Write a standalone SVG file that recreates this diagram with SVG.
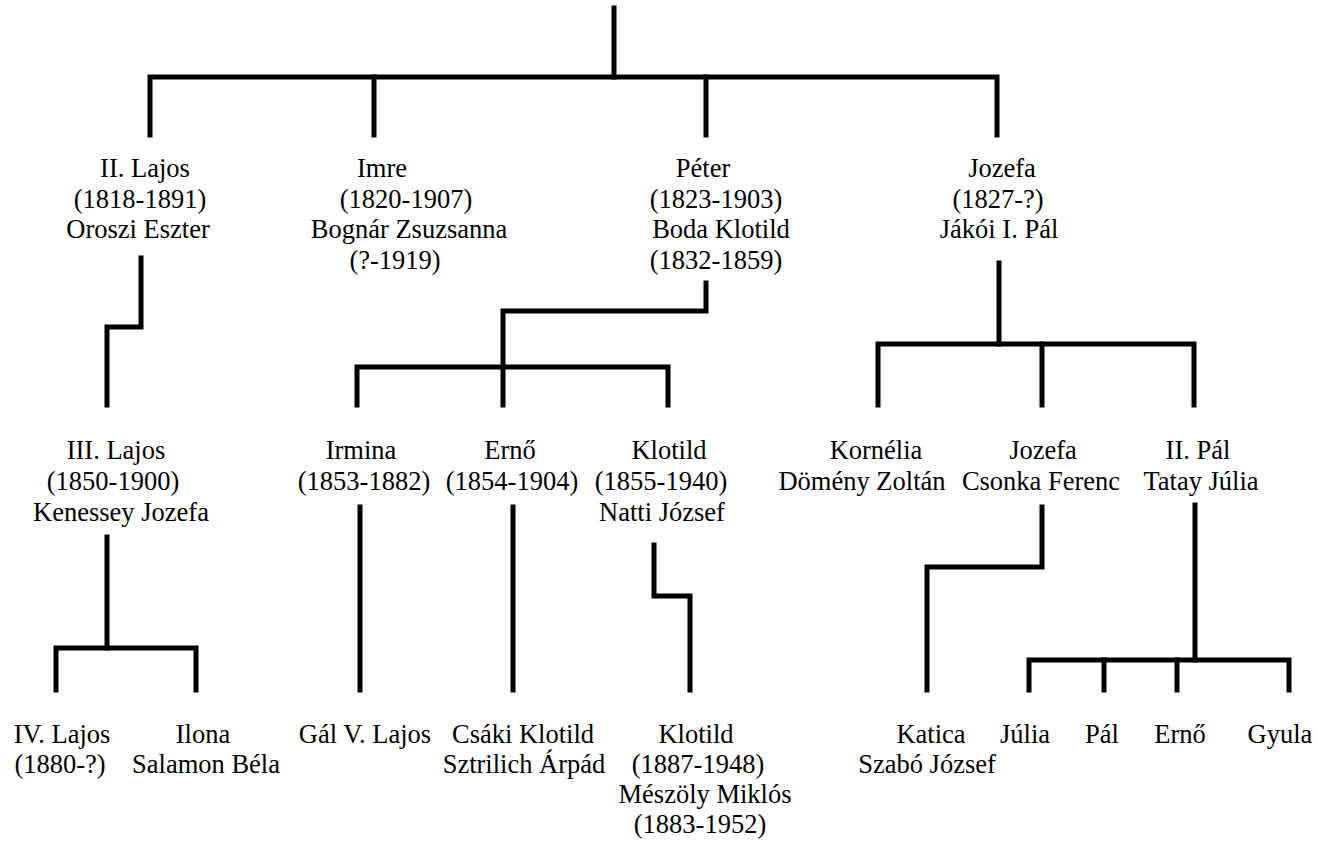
<svg xmlns="http://www.w3.org/2000/svg" width="1317" height="842" viewBox="0 0 1317 842">
<style>
text{font-family:"Liberation Serif","Times New Roman",serif;font-size:26.5px;fill:#000;text-anchor:middle}
.c path{fill:none;stroke:#000;stroke-width:5;stroke-linecap:square;stroke-linejoin:miter}
</style>
<rect width="1317" height="842" fill="#fff"/>
<g class="c" id="connectors">
<path d="M614,8V77"/>
<path d="M150,135V77H997V135"/>
<path d="M374,77V135"/>
<path d="M706,77V135"/>
<path d="M141,258V327H107V405"/>
<path d="M706,283V311H503V405"/>
<path d="M357,405V367H668V405"/>
<path d="M999,263V344"/>
<path d="M878,405V344H1194V405"/>
<path d="M1042,344V405"/>
<path d="M107,537V648"/>
<path d="M56,690V648H196V690"/>
<path d="M360,507V690"/>
<path d="M513,507V690"/>
<path d="M654,545V596H690V690"/>
<path d="M1042,507V567H927V690"/>
<path d="M1195,505V660"/>
<path d="M1029,690V660H1289V690"/>
<path d="M1104,660V690"/>
<path d="M1177,660V690"/>
</g>
<g id="n-lajos2"><text x="145" y="177">II. Lajos</text><text x="140" y="207.5">(1818-1891)</text><text x="138" y="238">Oroszi Eszter</text></g>
<g id="n-imre"><text x="382" y="177">Imre</text><text x="406" y="207.5">(1820-1907)</text><text x="409" y="238">Bognár Zsuzsanna</text><text x="395" y="268.5">(?-1919)</text></g>
<g id="n-peter"><text x="703" y="177">Péter</text><text x="716" y="207.5">(1823-1903)</text><text x="721" y="238">Boda Klotild</text><text x="716" y="268.5">(1832-1859)</text></g>
<g id="n-jozefa1"><text x="1002" y="177">Jozefa</text><text x="998" y="207.5">(1827-?)</text><text x="999" y="238">Jákói I. Pál</text></g>
<g id="n-lajos3"><text x="116" y="459">III. Lajos</text><text x="113" y="490">(1850-1900)</text><text x="121" y="520.5">Kenessey Jozefa</text></g>
<g id="n-irmina"><text x="361" y="459">Irmina</text><text x="364" y="490">(1853-1882)</text></g>
<g id="n-erno1"><text x="510" y="459">Ernő</text><text x="512" y="490">(1854-1904)</text></g>
<g id="n-klotild1"><text x="669" y="459">Klotild</text><text x="661" y="490">(1855-1940)</text><text x="662" y="520.5">Natti József</text></g>
<g id="n-kornelia"><text x="876" y="459">Kornélia</text><text x="862" y="490">Dömény Zoltán</text></g>
<g id="n-jozefa2"><text x="1043" y="459">Jozefa</text><text x="1041" y="490">Csonka Ferenc</text></g>
<g id="n-pal2"><text x="1198" y="459">II. Pál</text><text x="1201" y="490">Tatay Júlia</text></g>
<g id="n-lajos4"><text x="62" y="743">IV. Lajos</text><text x="60" y="773">(1880-?)</text></g>
<g id="n-ilona"><text x="203" y="743">Ilona</text><text x="206" y="773">Salamon Béla</text></g>
<g id="n-gal"><text x="365" y="743">Gál V. Lajos</text></g>
<g id="n-csaki"><text x="523" y="743">Csáki Klotild</text><text x="524" y="773">Sztrilich Árpád</text></g>
<g id="n-klotild2"><text x="696" y="743">Klotild</text><text x="698" y="773">(1887-1948)</text><text x="705" y="803">Mészöly Miklós</text><text x="700" y="833">(1883-1952)</text></g>
<g id="n-katica"><text x="931" y="743">Katica</text><text x="927" y="773">Szabó József</text></g>
<g id="n-julia"><text x="1025" y="743">Júlia</text></g>
<g id="n-pal"><text x="1102" y="743">Pál</text></g>
<g id="n-erno2"><text x="1180" y="743">Ernő</text></g>
<g id="n-gyula"><text x="1280" y="743">Gyula</text></g>
</svg>
